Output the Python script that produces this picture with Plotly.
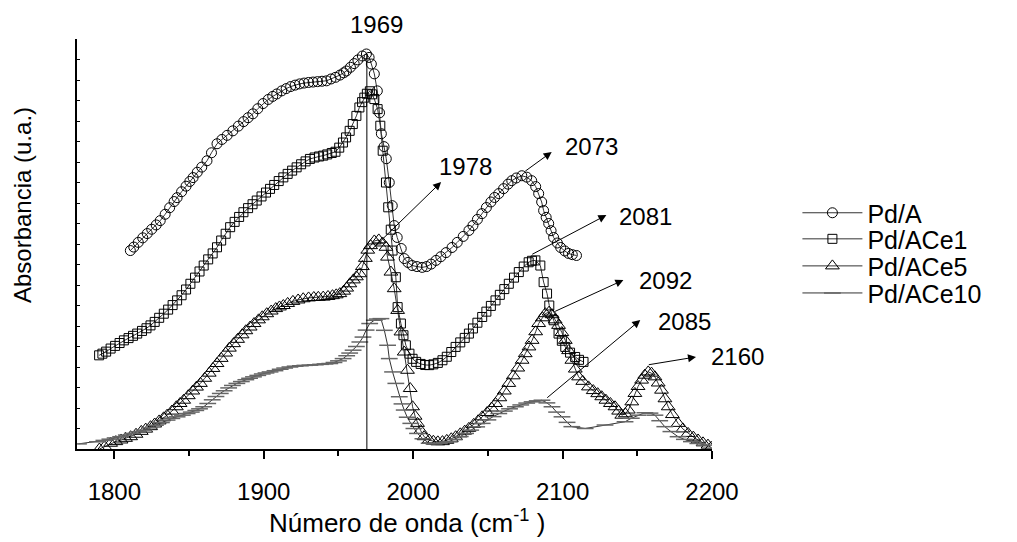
import plotly.graph_objects as go

# ---------------- data ----------------
pda_x = [1810.7, 1813, 1816, 1819, 1822, 1825, 1828, 1830.7, 1834, 1837, 1840, 1842, 1845, 1848,
         1850.5, 1852.7, 1855.5, 1858.5, 1862, 1865, 1868.7, 1872, 1875.5, 1879.3, 1883, 1886.5,
         1889.5, 1892.7, 1896, 1899.5, 1903, 1906, 1908.7, 1912, 1915, 1918, 1921, 1924, 1927,
         1930, 1933, 1936, 1939, 1942, 1945, 1948, 1951, 1953.5, 1955.3, 1958, 1960.5, 1963,
         1966, 1968.7, 1970.5, 1972, 1974, 1976, 1977.5, 1978.7, 1980.5, 1982, 1984, 1986,
         1987.3, 1989.3, 1992, 1994, 1996.5, 1999.3, 2002.5, 2006, 2009, 2012, 2015.3, 2018.5,
         2022, 2026, 2029.5, 2033.5, 2037.3, 2040, 2043, 2046, 2049, 2052, 2054.5, 2057.3,
         2060.5, 2063.5, 2066, 2069, 2072.7, 2076, 2079.3, 2082, 2084, 2086, 2087.3, 2089,
         2090.7, 2092.3, 2094, 2096.5, 2098.7, 2101.5, 2104, 2106.5, 2109.3]
pda_y = [9.68, 9.85, 10.08, 10.3, 10.51, 10.72, 10.93, 11.14, 11.45, 11.77, 12.07, 12.26, 12.55,
         12.82, 13.05, 13.24, 13.5, 13.75, 14.06, 14.45, 14.89, 15.1, 15.3, 15.52, 15.75, 15.97,
         16.16, 16.35, 16.6, 16.85, 17.05, 17.2, 17.32, 17.47, 17.58, 17.68, 17.75, 17.81, 17.85,
         17.88, 17.9, 17.92, 17.94, 17.96, 18.05, 18.13, 18.24, 18.35, 18.44, 18.62, 18.8, 18.98,
         19.17, 19.27, 19.1, 18.78, 18.30, 17.47, 16.4, 15.38, 14.75, 14.16, 13.0, 11.87,
         10.90, 10.32, 9.78, 9.29, 9.1, 8.95, 8.9, 8.86, 8.9, 9.02, 9.20, 9.38,
         9.58, 9.83, 10.08, 10.37, 10.66, 10.9, 11.2, 11.48, 11.78, 12.05, 12.27, 12.46,
         12.7, 12.92, 13.09, 13.22, 13.33, 13.26, 13.09, 12.8, 12.46, 12.05, 11.63, 11.3,
         11.00, 10.65, 10.32, 10.05, 9.83, 9.66, 9.54, 9.48, 9.44]

ace1_x = [1789.8, 1792, 1794.5, 1797.5, 1800.5, 1803.5, 1806.4, 1809.5, 1812.5, 1815.3, 1818.5,
          1821.5, 1824.2, 1827, 1830, 1833.1, 1836, 1839, 1842, 1845, 1848, 1850.9, 1854, 1857,
          1859.8, 1862.8, 1865.8, 1868.7, 1871.5, 1874.5, 1877.5, 1880.5, 1883.5, 1886.4, 1889.5,
          1892.5, 1895.3, 1898.5, 1901.5, 1904.2, 1907, 1910, 1913.1, 1916, 1919, 1922, 1925,
          1928, 1930.9, 1934, 1937, 1939.8, 1942.5, 1945.5, 1948, 1950.5, 1953, 1955.1, 1957.5,
          1959.6, 1962, 1964, 1965.8, 1967.3, 1969, 1971, 1972.5, 1974, 1976.2, 1978, 1979.6,
          1981.8, 1983.3, 1985, 1986.2, 1988.4, 1989.6, 1991.8, 1993.5, 1995.1, 1997.5, 1999.6,
          2002, 2005, 2008, 2010.7, 2013.5, 2016.5, 2019.6, 2022.5, 2025.5, 2028.4, 2031.5,
          2034.5, 2037.3, 2040, 2043, 2046.2, 2049, 2052, 2055.1, 2058, 2061, 2064, 2067.5,
          2070.7, 2074, 2077.3, 2079.5, 2081.8, 2085.1, 2087.3, 2089.6, 2091.1, 2094, 2097.3,
          2099.5, 2101.8, 2105, 2108.4, 2111, 2114]
ace1_y = [4.57, 4.65, 4.75, 4.90, 5.03, 5.17, 5.30, 5.41, 5.52, 5.63, 5.76,
          5.89, 6.03, 6.2, 6.4, 6.60, 6.8, 7.02, 7.25, 7.5, 7.78, 8.06, 8.36, 8.66,
          8.95, 9.25, 9.54, 9.84, 10.17, 10.5, 10.82, 11.08, 11.32, 11.55, 11.75,
          11.94, 12.12, 12.32, 12.51, 12.69, 12.88, 13.07, 13.25, 13.42, 13.58, 13.74, 13.89,
          14.03, 14.15, 14.22, 14.27, 14.31, 14.37, 14.44, 14.5, 14.7, 14.95, 15.2, 15.52,
          15.85, 16.25, 16.66, 16.92, 17.14, 17.33, 17.45, 17.3, 17.07, 16.58, 15.77, 14.55,
          13.0, 11.79, 10.7, 9.68, 8.38, 6.92, 6.12, 5.55, 5.06, 4.65, 4.4,
          4.25, 4.15, 4.1, 4.09, 4.13, 4.2, 4.33, 4.5, 4.73, 4.98, 5.2,
          5.42, 5.63, 5.88, 6.16, 6.44, 6.7, 6.98, 7.25, 7.52, 7.8, 8.06, 8.36,
          8.63, 8.9, 9.11, 9.18, 9.20, 8.95, 8.14, 7.58, 7.0, 6.28, 5.63,
          5.28, 4.98, 4.7, 4.49, 4.35, 4.25]

ace5_x = [1790, 1793.5, 1797.5, 1801, 1804.5, 1807.5, 1810.9, 1814.5, 1818, 1821, 1824.2, 1827,
          1830, 1833, 1835.3, 1838.5, 1841.5, 1844, 1846.4, 1849.5, 1852.5, 1855, 1857.6, 1860.5,
          1863.5, 1866, 1868.7, 1871.5, 1874.5, 1877, 1879.8, 1882.5, 1885.5, 1888, 1890.9,
          1893.5, 1896.5, 1899, 1902, 1905, 1908, 1910.5, 1913.1, 1916, 1919.5, 1923, 1926.4,
          1930, 1933.5, 1936.5, 1939.8, 1943, 1946, 1948.5, 1950.9, 1953.5, 1955.5, 1957.6, 1960,
          1962, 1964.2, 1966, 1968, 1969.6, 1971.5, 1974, 1977, 1979.5, 1981.8, 1982.8, 1985.1,
          1987.3, 1989.6, 1991.8, 1994, 1996.2, 1998, 1999.6, 2001.3, 2002.9, 2005, 2007.3,
          2010.7, 2013.5, 2016.5, 2019.6, 2022.5, 2025.5, 2028.4, 2031.5, 2034.5, 2037.3, 2040.5,
          2043.5, 2046.2, 2049.5, 2052.5, 2055.1, 2058, 2061, 2064, 2067, 2070, 2072.9, 2075,
          2077.5, 2079.6, 2082, 2084, 2086.5, 2088.4, 2091, 2093, 2095, 2097.3, 2099.5, 2101.8,
          2104, 2106.2, 2108.5, 2110.7, 2113.5, 2117.3, 2120.5, 2123.5, 2126.2, 2129, 2132,
          2135.1, 2137.5, 2139.6, 2142, 2144, 2146.3, 2148.4, 2150.5, 2152.9, 2155, 2157.3,
          2159.5, 2161.8, 2164, 2166.2, 2168.5, 2170.7, 2173.5, 2177.3, 2180.5, 2184, 2187.5,
          2190.7, 2194, 2197.3, 2199.5]
ace5_y = [0.0, 0.12, 0.28, 0.36, 0.44, 0.52, 0.6, 0.72, 0.86, 0.97, 1.09, 1.22,
          1.37, 1.52, 1.65, 1.85, 2.06, 2.22, 2.38, 2.6, 2.83, 3.02, 3.2, 3.45,
          3.7, 3.93, 4.17, 4.42, 4.68, 4.92, 5.14, 5.35, 5.57, 5.77, 5.95,
          6.12, 6.3, 6.45, 6.6, 6.73, 6.85, 6.93, 7.0, 7.1, 7.2, 7.27, 7.33,
          7.37, 7.39, 7.4, 7.41, 7.44, 7.48, 7.52, 7.58, 7.7, 7.85, 8.06, 8.25,
          8.4, 8.55, 8.9, 9.3, 9.7, 9.92, 10.15, 10.2, 10.05, 9.84, 9.36, 8.63,
          7.82, 6.76, 5.71, 4.73, 3.84, 2.95, 2.06, 1.6, 1.25, 0.9, 0.6,
          0.44, 0.38, 0.35, 0.36, 0.42, 0.5, 0.6, 0.74, 0.87, 1.01, 1.2,
          1.38, 1.57, 1.78, 2.0, 2.22, 2.5, 2.83, 3.2, 3.57, 3.95, 4.33, 4.65,
          4.98, 5.3, 5.72, 6.12, 6.4, 6.6, 6.68, 6.55, 6.3, 6.03, 5.68, 5.3,
          4.8, 4.33, 3.9, 3.52, 3.3, 3.03, 2.85, 2.7, 2.55, 2.38, 2.22,
          2.06, 1.85, 1.65, 1.72, 1.9, 2.3, 2.71, 3.05, 3.36, 3.6, 3.76,
          3.7, 3.52, 3.22, 2.87, 2.45, 2.06, 1.68, 1.25, 0.98, 0.76, 0.58,
          0.44, 0.3, 0.19, 0.08]

ace10_x = [1776, 1788.7, 1793, 1797, 1800.5, 1804.2, 1808, 1812, 1816, 1819.8, 1823.5, 1827.5,
           1831.5, 1835.3, 1838.5, 1842, 1845.5, 1848.7, 1851.5, 1854.5, 1857, 1859.8, 1862.5,
           1865.5, 1868, 1870.9, 1873.5, 1876.5, 1879, 1882, 1885, 1888, 1890.5, 1893.1, 1896,
           1899, 1901.5, 1904.2, 1907.5, 1911, 1914, 1917.5, 1921, 1924.5, 1927.5, 1930.9,
           1934.5, 1938, 1941, 1944.2, 1947, 1950, 1953.1, 1955.5, 1957.5, 1959.8, 1962, 1964.3,
           1966.4, 1968.5, 1970.9, 1974, 1976, 1978.4, 1980.7, 1982.9, 1984, 1986.2, 1988.4,
           1990.7, 1992.5, 1994, 1996, 1998.4, 2000.5, 2002.9, 2006.5, 2010.7, 2014, 2017.5,
           2021, 2024, 2027.5, 2031.5, 2035.1, 2038.5, 2042.5, 2046.2, 2050, 2053.5, 2057.3,
           2061, 2064.5, 2068.4, 2072, 2076, 2079.6, 2083, 2086.2, 2089.5, 2092.9, 2096, 2099.6,
           2103, 2106.2, 2115.1, 2128.4, 2141.8, 2146, 2150.5, 2155.1, 2158.5, 2161.8, 2165,
           2168.4, 2172.5, 2177.3, 2181.5, 2186.2, 2190.5, 2195.1]
ace10_y = [0.25, 0.35, 0.42, 0.48, 0.54, 0.6, 0.68, 0.76, 0.84, 0.92, 1.03, 1.16,
           1.29, 1.41, 1.49, 1.57, 1.65, 1.73, 1.8, 1.88, 1.96, 2.06, 2.22,
           2.4, 2.56, 2.71, 2.84, 2.98, 3.1, 3.2, 3.29, 3.38, 3.45, 3.52, 3.59,
           3.66, 3.71, 3.76, 3.82, 3.89, 3.95, 4.0, 4.04, 4.06, 4.08, 4.09,
           4.11, 4.13, 4.15, 4.17, 4.22, 4.3, 4.41, 4.55, 4.68, 4.82, 5.0, 5.22,
           5.46, 5.8, 6.12, 6.28, 6.34, 6.36, 5.79, 5.06, 4.41, 3.76, 3.2,
           2.55, 2.2, 1.9, 1.55, 1.25, 1.0, 0.76, 0.5, 0.28, 0.25, 0.27,
           0.31, 0.36, 0.47, 0.61, 0.76, 0.92, 1.08, 1.25, 1.42, 1.58, 1.73,
           1.85, 1.96, 2.06, 2.15, 2.24, 2.30, 2.35, 2.38, 2.25, 2.06, 1.8, 1.57,
           1.3, 1.09, 1.0, 1.17, 1.33, 1.5, 1.65, 1.77, 1.75, 1.65, 1.38,
           1.09, 0.85, 0.6, 0.47, 0.36, 0.27, 0.19]

series_names = ["Pd/A", "Pd/ACe1", "Pd/ACe5", "Pd/ACe10"]

# peak labels with arrows (tail at the band, head near the label)
peak_labels = ["1978", "2073", "2081", "2092", "2085", "2160"]
peak_tail_x = [1972, 2074, 2078.7, 2094, 2088.7, 2156.7]
peak_tail_y = [9.71, 13.5, 9.46, 6.68, 2.44, 4.1]
peak_head_x = [2018.7, 2092.7, 2129.3, 2140.7, 2152, 2189.3]
peak_head_y = [13.02, 14.49, 11.41, 8.24, 6.29, 4.49]
peak_text_x = [2035.3, 2119.3, 2155.3, 2168.7, 2181.3, 2217.3]
peak_text_y = [13.76, 14.78, 11.32, 8.2, 6.2, 4.49]

main_peak = 1969
main_peak_top = 19.27
main_peak_label_y = 20.7

x_ticks = [1800, 1900, 2000, 2100, 2200]

X_RANGE = [1775, 2200]
Y_RANGE = [0, 20]

FONT = "Liberation Sans, Arial, sans-serif"


def to_paper_x(v):
    return (v - X_RANGE[0]) / (X_RANGE[1] - X_RANGE[0])


def to_paper_y(v):
    return (v - Y_RANGE[0]) / (Y_RANGE[1] - Y_RANGE[0])


fig = go.Figure()

line_style = dict(color="#333333", width=1)

fig.add_trace(go.Scatter(
    x=pda_x, y=pda_y, name=series_names[0], mode="lines+markers", line=line_style, legend="legend",
    marker=dict(symbol="circle-open", size=10, color="black", line=dict(width=1, color="black"))))
fig.add_trace(go.Scatter(
    x=ace1_x, y=ace1_y, name=series_names[1], mode="lines+markers", line=line_style, legend="legend2",
    marker=dict(symbol="square-open", size=9, color="black", line=dict(width=1, color="black"))))
fig.add_trace(go.Scatter(
    x=ace5_x, y=ace5_y, name=series_names[2], mode="lines+markers", line=line_style, legend="legend3",
    marker=dict(symbol="triangle-up-open", size=12, color="black", line=dict(width=1, color="black"))))
fig.add_trace(go.Scatter(
    x=ace10_x, y=ace10_y, name=series_names[3], mode="lines+markers", line=line_style, legend="legend4",
    marker=dict(symbol="line-ew", size=12, color="#666666", line=dict(width=1.5, color="#666666"))))

# vertical line at main peak
fig.add_shape(type="line", xref="x", yref="y", x0=main_peak, x1=main_peak, y0=0, y1=main_peak_top,
              line=dict(color="black", width=1))

annotations = []
annotations.append(dict(x=to_paper_x(1975.3), y=to_paper_y(main_peak_label_y), xref="paper",
                        yref="paper", xanchor="center", yanchor="middle", text=str(main_peak),
                        showarrow=False, font=dict(size=24, color="black", family=FONT)))
for lab, tx, ty, hx, hy, lx, ly in zip(peak_labels, peak_tail_x, peak_tail_y, peak_head_x,
                                       peak_head_y, peak_text_x, peak_text_y):
    annotations.append(dict(x=hx, y=hy, ax=tx, ay=ty, xref="x", yref="y", axref="x", ayref="y",
                            text="", showarrow=True, arrowhead=2, arrowsize=1.6, arrowwidth=1,
                            arrowcolor="black", standoff=0, startstandoff=0))
    annotations.append(dict(x=to_paper_x(lx), y=to_paper_y(ly), xref="paper", yref="paper",
                            xanchor="center", yanchor="middle", text=lab, showarrow=False,
                            font=dict(size=24, color="black", family=FONT)))

annotations.append(dict(x=-0.0866, y=0.595, xref="paper", yref="paper", text="Absorbancia (u.a.)",
                        xanchor="center", yanchor="middle", textangle=-90, showarrow=False,
                        font=dict(size=24, color="black", family=FONT)))
annotations.append(dict(x=0.52, y=-0.176, xref="paper", yref="paper", xanchor="center",
                        yanchor="middle", text="Número de onda (cm<sup>-1</sup> )", showarrow=False,
                        font=dict(size=26, color="black", family=FONT)))

legend_common = dict(x=1.1345, xanchor="left", yanchor="middle", bgcolor="rgba(0,0,0,0)",
                     font=dict(size=25, family=FONT, color="black"), itemwidth=60)
legend_y = [0.5756, 0.512, 0.446, 0.380]

fig.update_layout(
    width=1017, height=542,
    margin=dict(l=77, r=305, t=39, b=93),
    plot_bgcolor="white", paper_bgcolor="white",
    font=dict(family=FONT, color="black", size=24),
    annotations=annotations,
    showlegend=True,
    legend=dict(y=legend_y[0], **legend_common),
    legend2=dict(y=legend_y[1], **legend_common),
    legend3=dict(y=legend_y[2], **legend_common),
    legend4=dict(y=legend_y[3], **legend_common),
)

fig.update_xaxes(range=X_RANGE, tickvals=x_ticks, ticktext=[str(v) for v in x_ticks],
                 showline=True, linecolor="black", linewidth=1.5, ticks="outside", ticklen=8,
                 tickwidth=1.5, tickcolor="black", showgrid=False, zeroline=False,
                 tickfont=dict(size=24, family=FONT, color="black"), ticklabelstandoff=12,
                 minor=dict(dtick=50, tick0=1800, ticks="outside", ticklen=5, tickcolor="black",
                            tickwidth=1.5))
fig.update_yaxes(range=Y_RANGE, dtick=1, tick0=0, showticklabels=False, showline=True,
                 linecolor="black", linewidth=1.5, ticks="inside", ticklen=3, tickcolor="black",
                 showgrid=False, zeroline=False)

fig.write_html("out.html")
